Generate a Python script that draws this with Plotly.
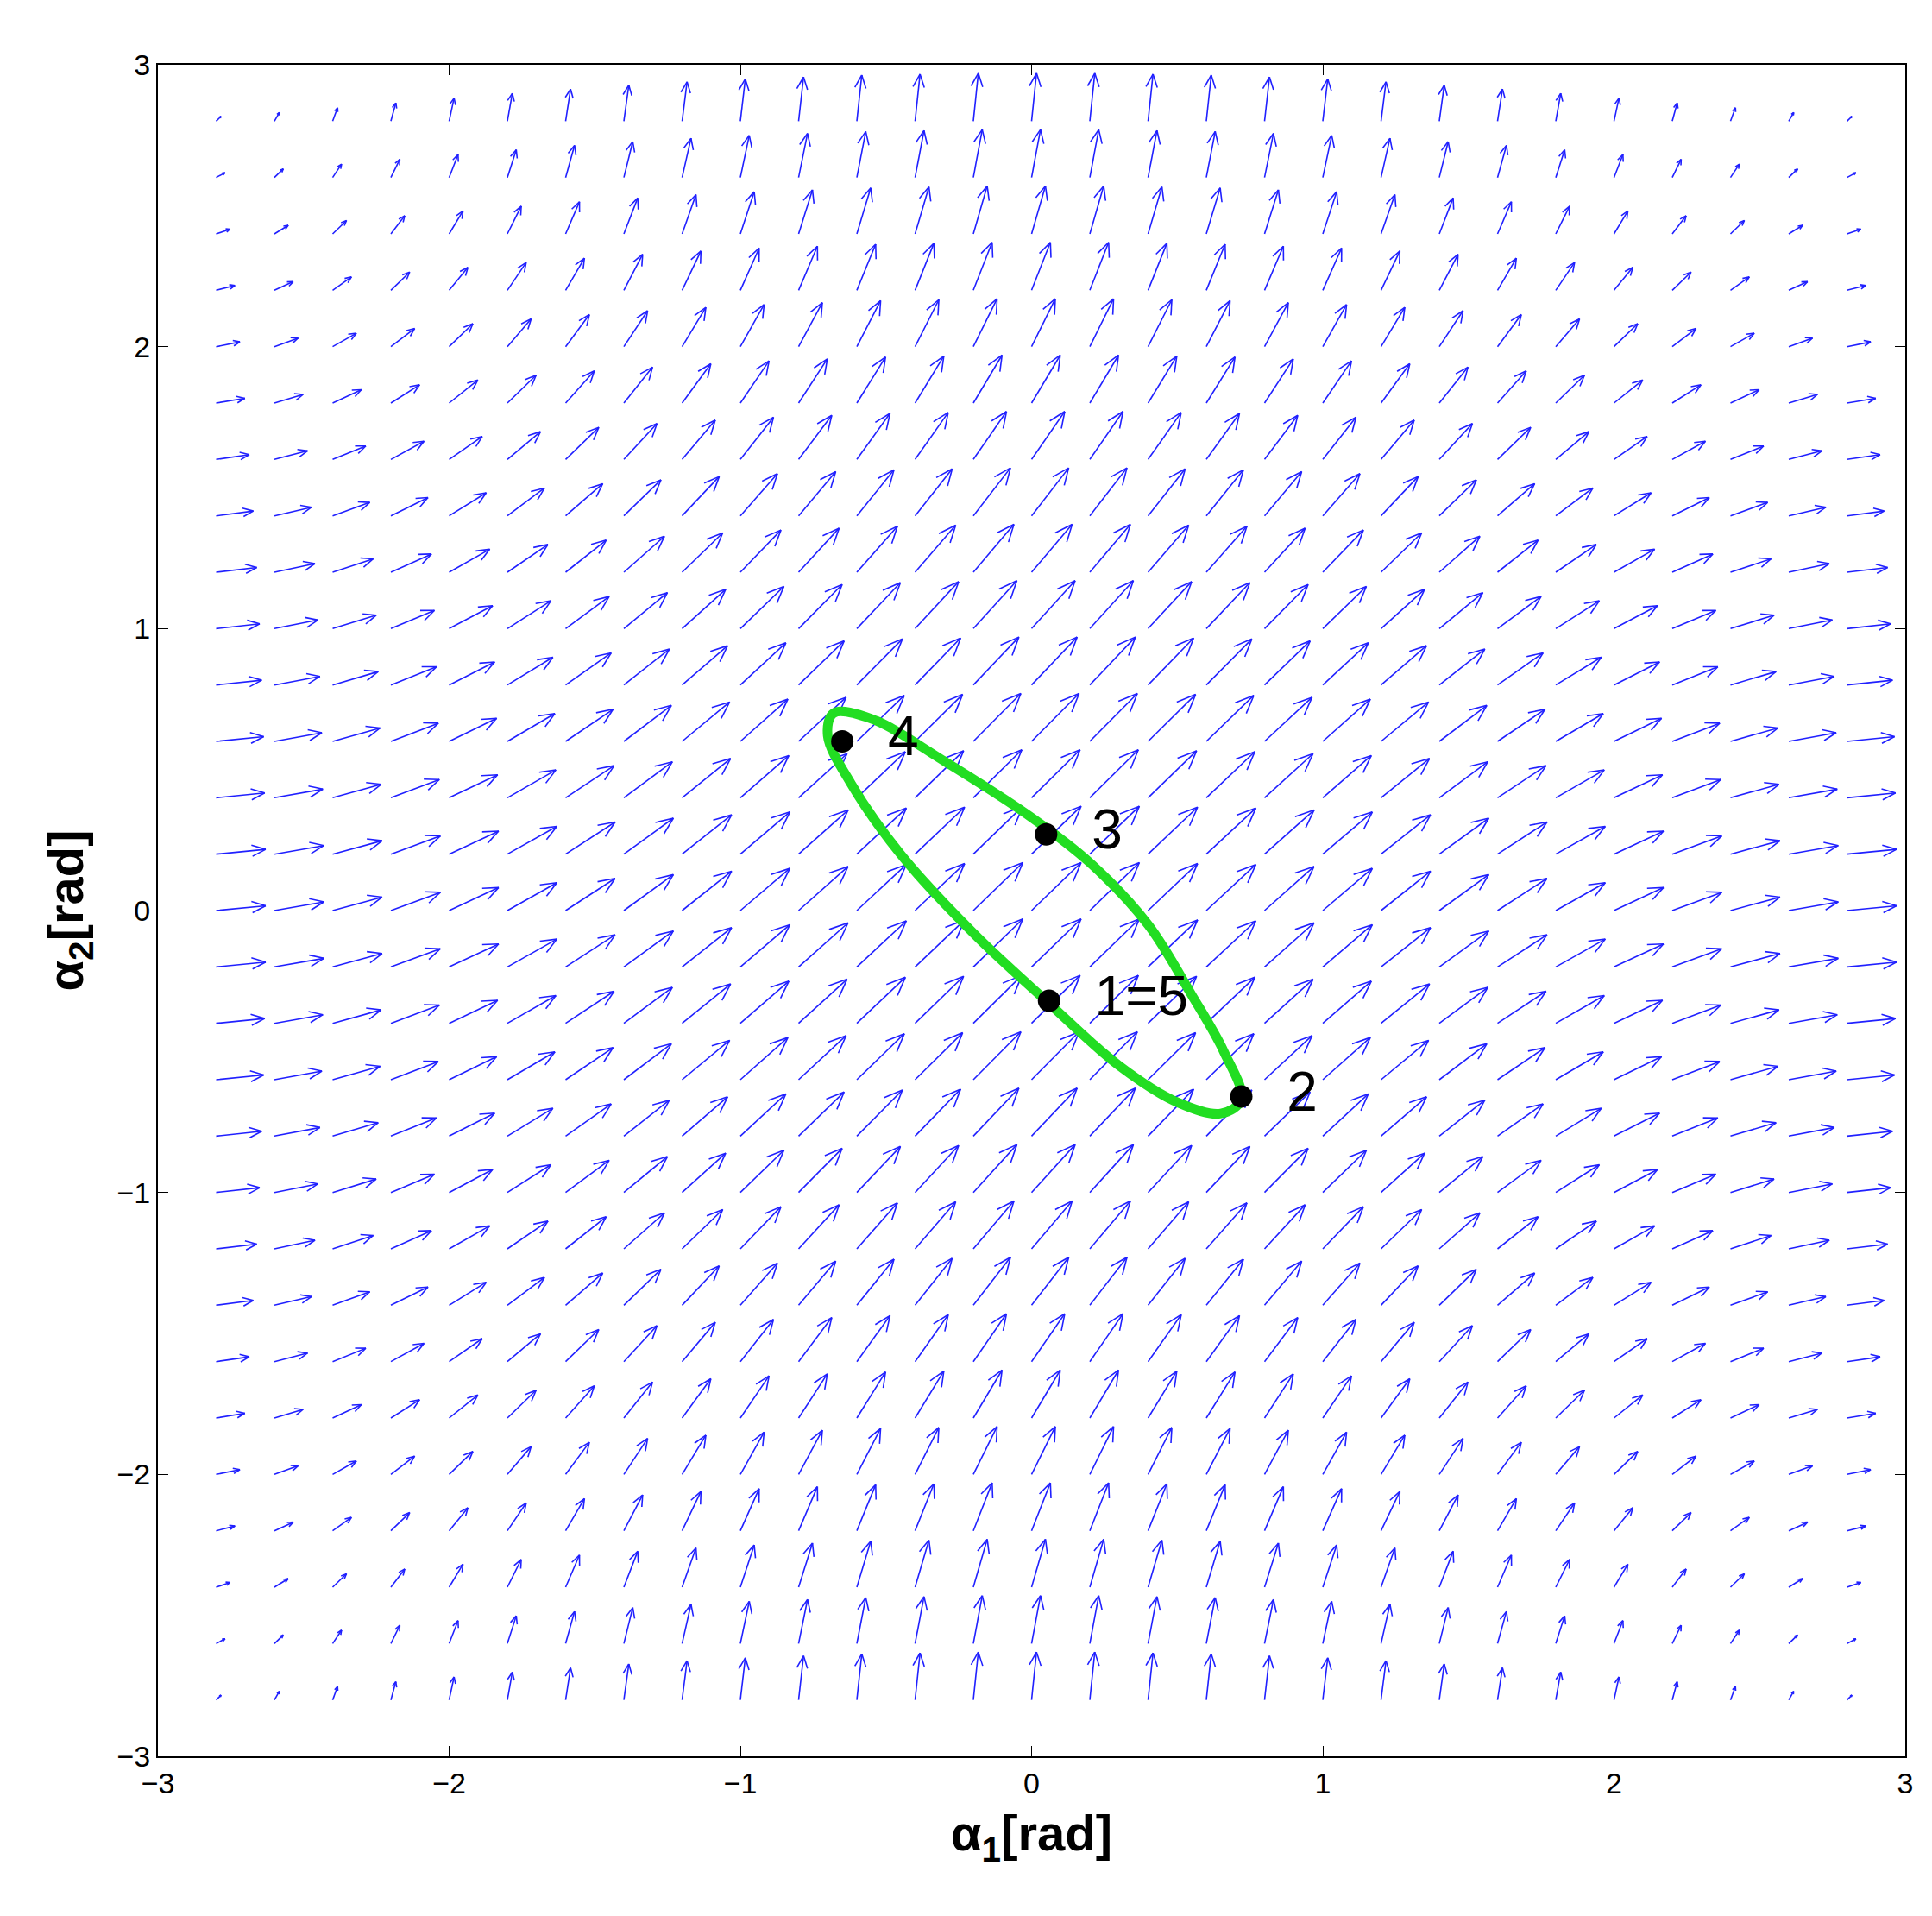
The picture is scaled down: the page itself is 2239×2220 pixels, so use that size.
import math
import plotly.graph_objects as go

# grid of arrow positions
grid_pos = [round(-2.8 + 0.2 * i, 1) for i in range(29)]

# horizontal component, read along a row, depends on y (same order as grid_pos)
u_by_y = [0.1, 0.18, 0.28, 0.38, 0.48, 0.58, 0.67, 0.75, 0.82, 0.88, 0.92, 0.96, 0.98, 1.0, 1.0,
          1.0, 0.98, 0.96, 0.92, 0.88, 0.82, 0.75, 0.67, 0.58, 0.48, 0.38, 0.28, 0.18, 0.1]
# vertical component, read along a column, depends on x
v_by_x = [0.1, 0.18, 0.28, 0.38, 0.48, 0.58, 0.67, 0.75, 0.82, 0.88, 0.92, 0.96, 0.98, 1.0, 1.0,
          1.0, 0.98, 0.96, 0.92, 0.88, 0.82, 0.75, 0.67, 0.58, 0.48, 0.38, 0.28, 0.18, 0.1]

# green closed orbit, vertices
orbit_x = [-0.68, -0.55, -0.3, 0.0, 0.2, 0.4, 0.55, 0.66, 0.72, 0.65, 0.5, 0.3, 0.05, -0.2, -0.45, -0.62, -0.7, -0.68]
orbit_y = [0.70, 0.68, 0.53, 0.33, 0.17, -0.05, -0.3, -0.5, -0.67, -0.72, -0.68, -0.55, -0.32, -0.08, 0.2, 0.45, 0.62, 0.70]

point_x = [0.06, 0.72, 0.05, -0.65]
point_y = [-0.32, -0.66, 0.27, 0.60]
point_labels = ["  1=5", "  2", "  3", "  4"]

scale = 0.17
hx, hy = [], []
for j, y in enumerate(grid_pos):
    for i, x in enumerate(grid_pos):
        du, dv = u_by_y[j] * scale, v_by_x[i] * scale
        x1, y1 = x + du, y + dv
        hx += [x, x1, None]
        hy += [y, y1, None]
        L = math.hypot(du, dv)
        a = math.atan2(dv, du)
        h = 0.3 * L
        for s in (1, -1):
            hx += [x1, x1 - h * math.cos(a + s * 0.4), None]
            hy += [y1, y1 - h * math.sin(a + s * 0.4), None]

fig = go.Figure()
fig.add_trace(go.Scatter(x=hx, y=hy, mode="lines", line=dict(color="#2020ff", width=1.6), hoverinfo="skip"))
fig.add_trace(go.Scatter(x=orbit_x, y=orbit_y, mode="lines", line=dict(color="#22dd22", width=11, shape="spline")))
fig.add_trace(go.Scatter(x=point_x, y=point_y, mode="markers+text", marker=dict(color="black", size=26),
                         text=point_labels, textposition="middle right",
                         textfont=dict(family="Arial", size=64, color="black")))

axis = dict(range=[-3, 3], dtick=1, showgrid=False, zeroline=False, showline=True, linecolor="black",
            linewidth=2, mirror="ticks", ticks="inside", ticklen=12, tickcolor="black",
            tickfont=dict(family="Arial", size=34, color="black"))
fig.update_layout(
    width=2239, height=2220, showlegend=False,
    plot_bgcolor="white", paper_bgcolor="white",
    margin=dict(l=175, r=39, t=67, b=193),
    xaxis=dict(axis, title=dict(text="<b>α<sub>1</sub>[rad]</b>", font=dict(family="Arial", size=58, color="black"), standoff=20)),
    yaxis=dict(axis, title=dict(text="<b>α<sub>2</sub>[rad]</b>", font=dict(family="Arial", size=58, color="black"), standoff=20)),
)
fig.write_html("out.html")
